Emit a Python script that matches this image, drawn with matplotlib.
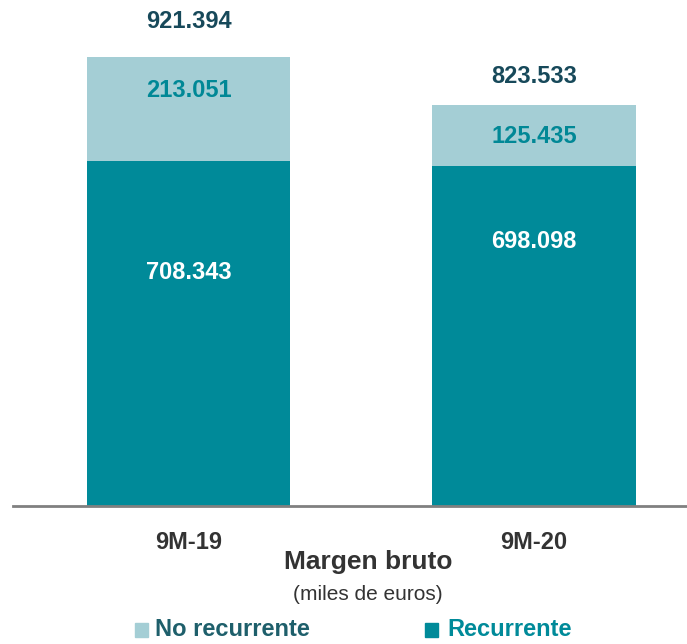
import matplotlib
matplotlib.use("Agg")
import matplotlib.pyplot as plt
from matplotlib import font_manager
from matplotlib.patches import Rectangle

categories = ["9M-19", "9M-20"]
recurrente = [708.343, 698.098]
no_recurrente = [213.051, 125.435]
totales = [921.394, 823.533]

labels_rec = ["708.343", "698.098"]
labels_norec = ["213.051", "125.435"]
labels_tot = ["921.394", "823.533"]

DARK = "#008A99"
LIGHT = "#A4CED5"
NAVY = "#17495A"
GREY = "#333333"

names = {f.name for f in font_manager.fontManager.ttflist}
FAM = ["Liberation Sans Narrow", "Liberation Sans"] if "Liberation Sans Narrow" in names else ["Liberation Sans"]
plt.rcParams["font.family"] = FAM

fig = plt.figure(figsize=(6.87, 6.44), dpi=100)
ax = fig.add_axes([13 / 687, 138 / 644, 674 / 687, 506 / 644])

x = list(range(len(categories)))
w = 0.588
ax.bar(x, recurrente, width=w, color=DARK, zorder=2)
ax.bar(x, no_recurrente, width=w, bottom=recurrente, color=LIGHT, zorder=2)

ax.set_xlim(-0.508, 1.443)
ax.set_ylim(0, 1039)
for s in ["top", "right", "left"]:
    ax.spines[s].set_visible(False)
ax.spines["bottom"].set_color("#808080")
ax.spines["bottom"].set_linewidth(2)
ax.set_yticks([])
ax.set_xticks(x)
ax.set_xticklabels(categories, fontsize=17, fontweight="bold", color=GREY)
ax.tick_params(axis="x", length=0, pad=18)

# value labels
rec_y = [480, 544]
norec_y = [854, 758]
tot_y = [994, 881]
for i in x:
    ax.text(i, rec_y[i], labels_rec[i], ha="center", va="center",
            fontsize=17, fontweight="bold", color="white")
    ax.text(i, norec_y[i], labels_norec[i], ha="center", va="center",
            fontsize=17, fontweight="bold", color="#008896")
    ax.text(i, tot_y[i], labels_tot[i], ha="center", va="center",
            fontsize=17, fontweight="bold", color=NAVY)

fig.text(368 / 687, 1 - 562 / 644, "Margen bruto", ha="center", va="center",
         fontsize=19, fontweight="bold", color=GREY)
fig.text(368 / 687, 1 - 594 / 644, "(miles de euros)", ha="center", va="center",
         fontsize=15, color=GREY)

# legend
fig.patches.append(Rectangle((135 / 687, 1 - 637 / 644), 13 / 687, 14 / 644,
                             transform=fig.transFigure, color=LIGHT))
fig.text(155 / 687, 1 - 630 / 644, "No recurrente", ha="left", va="center",
         fontsize=17, fontweight="bold", color="#1E5F6B")
fig.patches.append(Rectangle((425 / 687, 1 - 637 / 644), 13 / 687, 14 / 644,
                             transform=fig.transFigure, color=DARK))
fig.text(447 / 687, 1 - 630 / 644, "Recurrente", ha="left", va="center",
         fontsize=17, fontweight="bold", color=DARK)

fig.savefig("out.png", dpi=100)
